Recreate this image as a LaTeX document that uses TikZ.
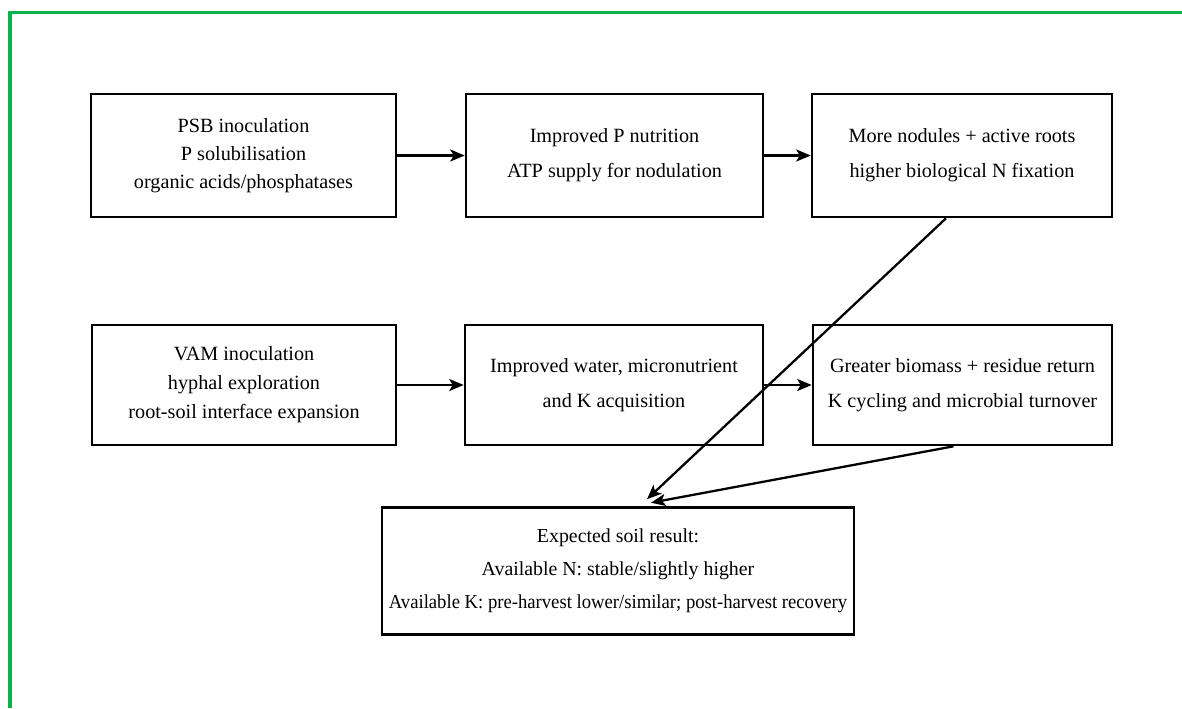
\documentclass[tikz,border=0pt]{standalone}
\usepackage{fontspec}
\setmainfont{Liberation Serif}
\usetikzlibrary{arrows.meta,calc}
\definecolor{framegreen}{RGB}{14,178,76}
\begin{document}
\begin{tikzpicture}[x=0.02cm,y=-0.02cm,
  box/.style={draw=black, line width=1.5pt, align=center, inner sep=0pt,
              font=\fontsize{11.5}{15.8}\selectfont},
  twoline/.style={font=\fontsize{11.5}{19.8}\selectfont},
  conn/.style={draw=black, line width=1.3pt, -{Stealth[length=0.29cm,width=0.24cm,inset=0.07cm]}}]
\useasboundingbox (0,0) rectangle (1182,708);
\fill[white] (0,0) rectangle (1182,708);
\draw[framegreen, line width=2.2pt] (10,708) -- (10,12.5) -- (1182,12.5);

\node[box, minimum width=6.1cm, minimum height=2.46cm] (A) at (243.5,155.5)
  {PSB inoculation\\P solubilisation\\organic acids/phosphatases};
\node[box, twoline, minimum width=5.94cm, minimum height=2.46cm] (B) at (614.5,155.5)
  {Improved P nutrition\\ATP supply for nodulation};
\node[box, twoline, minimum width=6.0cm, minimum height=2.46cm] (C) at (962,155.5)
  {More nodules + active roots\\higher biological N fixation};

\node[box, font=\fontsize{11.5}{16.5}\selectfont, minimum width=6.08cm, minimum height=2.4cm] (D) at (244,385)
  {VAM inoculation\\hyphal exploration\\root-soil interface expansion};
\node[box, twoline, minimum width=5.96cm, minimum height=2.4cm] (E) at (614,385)
  {Improved water, micronutrient\\and K acquisition};
\node[box, twoline, minimum width=5.98cm, minimum height=2.4cm] (F) at (962.5,385)
  {Greater biomass + residue return\\K cycling and microbial turnover};

\node[box, font=\fontsize{11.3}{18.7}\selectfont, minimum width=9.44cm, minimum height=2.54cm] (G) at (618,571)
  {Expected soil result:\\Available N: stable/slightly higher\\\scalebox{0.94}[1]{Available K: pre-harvest lower/similar; post-harvest recovery}};

\coordinate (tipC) at ($(G.north)+(29,-7)$);
\coordinate (tipF) at ($(G.north)+(33,-3.5)$);

\draw[conn] (A) -- (B);
\draw[conn] (B) -- (C);
\draw[conn] (D) -- (E);
\draw[conn] (E) -- (F);
\draw[conn] ($(C.south west)!0.447!(C.south east)$) -- (tipC);
\draw[conn] ($(F.south west)!0.47!(F.south east)$) -- (tipF);
\end{tikzpicture}
\end{document}
